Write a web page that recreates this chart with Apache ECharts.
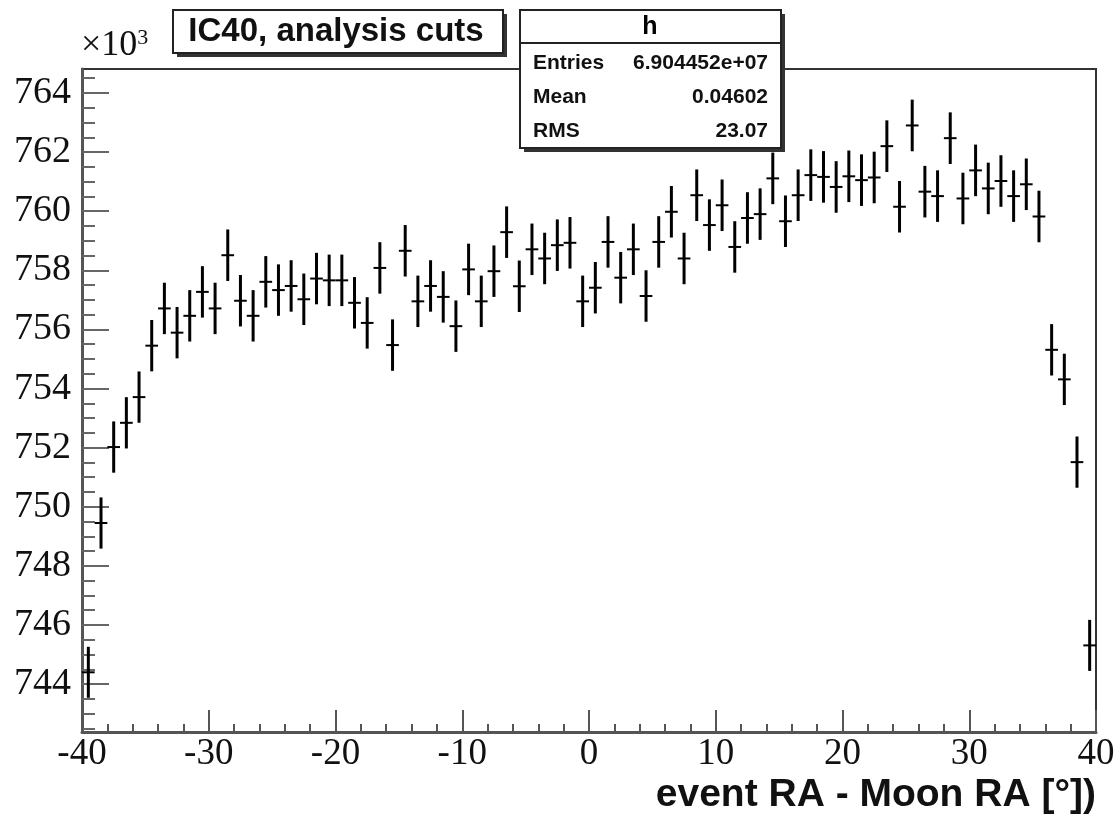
<!DOCTYPE html>
<html><head><meta charset="utf-8">
<script src="https://cdn.jsdelivr.net/npm/echarts@6/dist/echarts.min.js"></script>
<style>html,body{margin:0;padding:0;background:#fff}#c{width:1118px;height:817px}</style>
</head><body><div id="c"></div>
<script>
// bin centres (degrees)
const binCenters = [
 -39.5,-38.5,-37.5,-36.5,-35.5,-34.5,-33.5,-32.5,-31.5,-30.5,
 -29.5,-28.5,-27.5,-26.5,-25.5,-24.5,-23.5,-22.5,-21.5,-20.5,
 -19.5,-18.5,-17.5,-16.5,-15.5,-14.5,-13.5,-12.5,-11.5,-10.5,
 -9.5,-8.5,-7.5,-6.5,-5.5,-4.5,-3.5,-2.5,-1.5,-0.5,
 0.5,1.5,2.5,3.5,4.5,5.5,6.5,7.5,8.5,9.5,
 10.5,11.5,12.5,13.5,14.5,15.5,16.5,17.5,18.5,19.5,
 20.5,21.5,22.5,23.5,24.5,25.5,26.5,27.5,28.5,29.5,
 30.5,31.5,32.5,33.5,34.5,35.5,36.5,37.5,38.5,39.5
];
// counts per bin, in units of 10^3
const counts = [
 744.40,749.45,752.02,752.84,753.71,755.45,756.71,755.89,756.46,757.27,
 756.71,758.51,756.97,756.46,757.61,757.33,757.47,757.02,757.72,757.66,
 757.66,756.90,756.22,758.08,755.47,758.66,756.95,757.47,757.10,756.11,
 758.03,756.95,757.97,759.29,757.46,758.71,758.40,758.85,758.93,756.95,
 757.41,758.96,757.75,758.71,757.13,758.96,759.98,758.40,760.54,759.53,
 760.20,758.79,759.77,759.90,761.11,759.66,760.54,761.22,761.16,760.82,
 761.18,761.05,761.14,762.20,760.15,762.90,760.66,760.51,762.47,760.43,
 761.38,760.77,761.02,760.51,760.91,759.82,755.31,754.31,751.51,745.31
];
const yMajorTicks = [744,746,748,750,752,754,756,758,760,762,764];
const yMinorTicks = [742.5,743,743.5,744.5,745,745.5,746.5,747,747.5,748.5,749,749.5,
 750.5,751,751.5,752.5,753,753.5,754.5,755,755.5,756.5,757,757.5,758.5,759,759.5,
 760.5,761,761.5,762.5,763,763.5,764.5];
const statsLabels = ['Entries','Mean','RMS'];
const statsValues = ['6.904452e+07','0.04602','23.07'];
const histName = 'h';
const titleText = 'IC40, analysis cuts';
const xTitle = 'event RA - Moon RA [°])';

const X_MIN = -40, X_MAX = 40, BIN_W = 1;
const Y_MIN = 742.38, Y_MAX = 764.81;

// Poisson error on each bin: sqrt(N), N in units of 10^3
const data = binCenters.map((c, i) => [c, counts[i], Math.sqrt(counts[i] * 1000) / 1000]);

const chart = echarts.init(document.getElementById('c'), null, {renderer: 'canvas'});

function renderItem(params, api) {
  const x = api.value(0), v = api.value(1), e = api.value(2);
  const t = api.coord([x, v + e]);
  const b = api.coord([x, v - e]);
  const l = api.coord([x - BIN_W / 2, v]);
  const r = api.coord([x + BIN_W / 2, v]);
  return {type: 'group', children: [
    {type: 'line', shape: {x1: t[0], y1: t[1], x2: b[0], y2: b[1]}, style: {stroke: '#000', lineWidth: 3}},
    {type: 'line', shape: {x1: l[0], y1: l[1], x2: r[0], y2: r[1]}, style: {stroke: '#000', lineWidth: 2}}
  ]};
}

const serif = 'Liberation Serif';
const sans = 'Liberation Sans';
const G = {left: 82, right: 22, top: 69, bottom: 85};

const statsChildren = [
  {type: 'rect', shape: {x: 524, y: 14, width: 261, height: 138}, style: {fill: '#333'}},
  {type: 'rect', shape: {x: 520, y: 10, width: 261, height: 138}, style: {fill: '#fff', stroke: '#222', lineWidth: 2}},
  {type: 'line', shape: {x1: 520, y1: 43, x2: 781, y2: 43}, style: {stroke: '#222', lineWidth: 2}},
  {type: 'text', x: 650, y: 27, style: {text: histName, font: 'bold 25px "Liberation Sans"', fill: '#000', align: 'center', verticalAlign: 'middle'}}
];
const rowY = [63, 97, 131];
statsLabels.forEach((s, i) => {
  statsChildren.push({type: 'text', x: 533, y: rowY[i], style: {text: s, font: 'bold 21px "Liberation Sans"', fill: '#111', align: 'left', verticalAlign: 'middle'}});
  statsChildren.push({type: 'text', x: 768, y: rowY[i], style: {text: statsValues[i], font: 'bold 21px "Liberation Sans"', fill: '#111', align: 'right', verticalAlign: 'middle'}});
});

const option = {
  backgroundColor: '#fff',
  animation: false,
  grid: [
    Object.assign({show: true, borderColor: '#333', borderWidth: 2, backgroundColor: 'transparent'}, G),
    Object.assign({show: false}, G)
  ],
  xAxis: [
    {type: 'value', gridIndex: 0, min: X_MIN, max: X_MAX, interval: 10,
     axisLine: {show: true, onZero: false, lineStyle: {color: '#555', width: 3}},
     axisTick: {show: true, inside: true, length: 22, lineStyle: {color: '#555', width: 2}},
     minorTick: {show: true, splitNumber: 5, length: 8, lineStyle: {color: '#555', width: 2}},
     splitLine: {show: false},
     axisLabel: {show: true, margin: 4, color: '#111', fontFamily: serif, fontSize: 37,
                 showMinLabel: true, showMaxLabel: true},
     name: xTitle, nameLocation: 'end', nameGap: 0,
     nameTextStyle: {fontFamily: sans, fontWeight: 'bold', fontSize: 39, color: '#111',
                     align: 'right', verticalAlign: 'top', padding: [44, 0, 0, 0]}
    },
    {type: 'value', gridIndex: 1, min: X_MIN, max: X_MAX, show: false, axisLine: {onZero: false}}
  ],
  yAxis: [
    {type: 'value', gridIndex: 0, min: Y_MIN, max: Y_MAX,
     axisLine: {show: true, onZero: false, lineStyle: {color: '#555', width: 3}},
     axisTick: {show: true, inside: true, length: 27, customValues: yMajorTicks, lineStyle: {color: '#666', width: 2}},
     axisLabel: {show: true, customValues: yMajorTicks, margin: 11, color: '#111', fontFamily: serif, fontSize: 38},
     splitLine: {show: false}
    },
    {type: 'value', gridIndex: 1, min: Y_MIN, max: Y_MAX, position: 'left',
     axisLine: {show: false, onZero: false},
     axisTick: {show: true, inside: true, length: 13, customValues: yMinorTicks, lineStyle: {color: '#666', width: 2}},
     axisLabel: {show: false},
     splitLine: {show: false}
    }
  ],
  series: [{
    type: 'custom', xAxisIndex: 0, yAxisIndex: 0, renderItem: renderItem,
    data: data, clip: false, encode: {x: 0, y: 1}
  }],
  graphic: [
    {type: 'text', left: 81, top: 27, style: {text: '×10{s|3}', font: '36px "Liberation Serif"', fill: '#111',
      rich: {s: {fontFamily: 'Liberation Serif', fontSize: 22, verticalAlign: 'top', padding: [0, 0, 16, 0]}}}},
    {type: 'group', children: [
      {type: 'rect', shape: {x: 177, y: 14, width: 330, height: 43}, style: {fill: '#333'}},
      {type: 'rect', shape: {x: 173, y: 10, width: 330, height: 43}, style: {fill: '#fff', stroke: '#222', lineWidth: 2}},
      {type: 'text', x: 336, y: 32, style: {text: titleText, font: 'bold 33px "Liberation Sans"', fill: '#111', align: 'center', verticalAlign: 'middle'}}
    ]},
    {type: 'group', children: statsChildren}
  ]
};
chart.setOption(option);
</script>
</body></html>
